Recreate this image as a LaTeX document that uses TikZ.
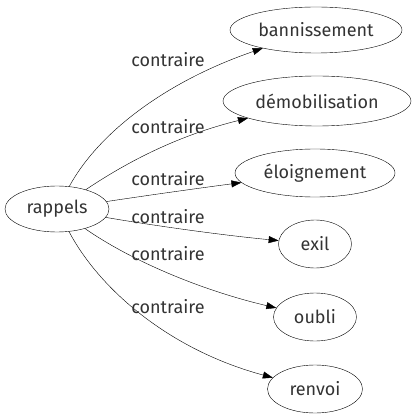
\documentclass[tikz,border=0pt]{standalone}
\usepackage{fontspec}
\setmainfont{Fira Sans}
\usetikzlibrary{shapes.geometric,arrows.meta}
\begin{document}
\begin{tikzpicture}[x=1pt,y=-1pt,
  word/.style={draw,ellipse,inner sep=0pt,minimum height=48pt,font=\fontsize{18}{21}\selectfont,text=black!80},
  rel/.style={-{Triangle[length=10pt,width=7pt]},thin},
  lab/.style={font=\fontsize{18}{21}\selectfont,text=black!80}]
\useasboundingbox (0,0) rectangle (413,419);
\node[word,minimum width=104pt,minimum height=46pt] (r) at (57,209) {rappels};
\node[word,minimum width=172pt,minimum height=46pt] (t1) at (316,30) {bannissement};
\node[word,minimum width=188pt,minimum height=50pt] (t2) at (317,101) {démobilisation};
\node[word,minimum width=160pt] (t3) at (315,173) {éloignement};
\node[word,minimum width=73pt] (t4) at (315,244) {exil};
\node[word,minimum width=83pt] (t5) at (315,317) {oubli};
\node[word,minimum width=95pt] (t6) at (315,389) {renvoi};
\draw[rel] (r) .. controls (100,130) and (170,80) .. (t1);
\draw[rel] (r) .. controls (130,160) and (180,135) .. (t2);
\draw[rel] (r) .. controls (150,195) and (200,188) .. (t3);
\draw[rel] (r) .. controls (150,225) and (220,235) .. (t4);
\draw[rel] (r) .. controls (130,260) and (200,290) .. (t5);
\draw[rel] (r) .. controls (100,290) and (170,350) .. (t6);
\node[lab] (l1) at (168,60) {contraire};
\node[lab] (l2) at (168,127) {contraire};
\node[lab] (l3) at (168,179) {contraire};
\node[lab] (l4) at (168,217) {contraire};
\node[lab] (l5) at (168,254) {contraire};
\node[lab] (l6) at (168,307) {contraire};
\end{tikzpicture}
\end{document}
